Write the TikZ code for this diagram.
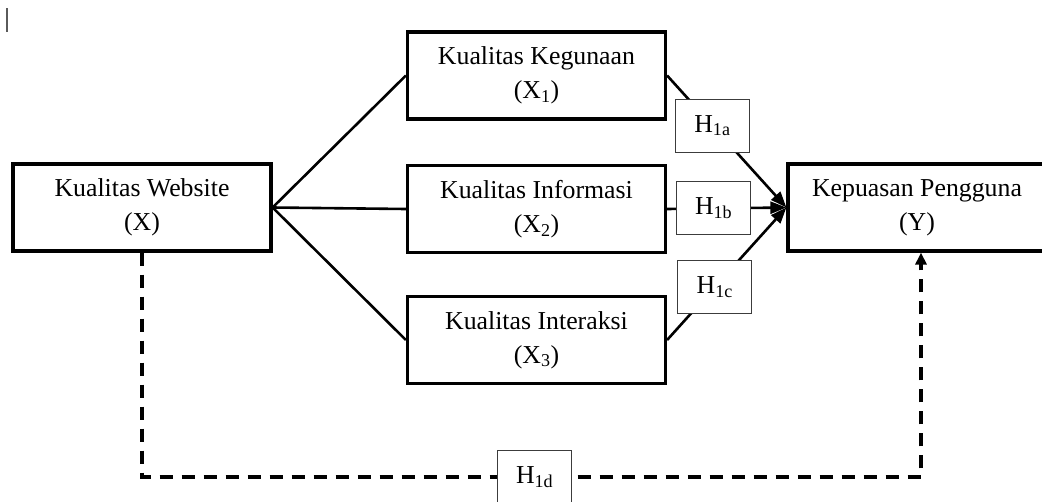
\documentclass[tikz,border=0pt]{standalone}
\usepackage{fontspec}
\setmainfont{Liberation Serif}
\usetikzlibrary{arrows.meta}
\definecolor{ink}{HTML}{000000}
\definecolor{thin}{HTML}{3C3C3C}
\definecolor{caret}{HTML}{5A5A5A}
\tikzset{
  var/.style={draw=ink, line width=3.2pt, fill=white, minimum width=258pt, minimum height=87pt,
    inner sep=0pt, align=center, font=\fontsize{25.8}{34}\selectfont},
  hyp/.style={draw=thin, solid, line width=1.1pt, fill=white, minimum width=74pt, minimum height=53pt,
    inner sep=0pt, font=\fontsize{25.8}{30}\selectfont},
  link/.style={draw=ink, line width=2.6pt},
  tip/.style={-{Triangle[length=16pt,width=12pt]}},
  dashlink/.style={draw=ink, line width=3.2pt, dash pattern=on 13pt off 9pt},
  dashtip/.style={-{Triangle[length=12pt,width=11pt]}},
}

\begin{document}
\begin{tikzpicture}[x=1pt,y=-1pt]
  \useasboundingbox (0,0) rectangle (1042,501);
  \clip (0,0) rectangle (1042,501);
  \draw[caret, line width=1.6pt] (7,8) -- (7,32);
  % variables
  \node[var] (X) at (142,207.5) {Kualitas Website\\(X)};
  \foreach \n/\y/\t in {1/75.5/Kegunaan,2/209/Informasi,3/340/Interaksi}
    \node[var] (X\n) at (536.5,\y) {Kualitas \t\\(X\textsubscript{\n})};
  \node[var] (Y) at (917,207.5) {Kepuasan Pengguna\\(Y)};
  % paths
  \foreach \n in {1,2,3}
    \draw[link] (X.east) -- (X\n.west);
  \draw[link,tip] (X1.east) -- node[hyp,pos=.38] (Ha) {H\textsubscript{1a}} (Y.west);
  \draw[link,tip] (X2.east) -- node[hyp,pos=.39] (Hb) {H\textsubscript{1b}} (Y.west);
  \draw[link,tip] (X3.east) -- node[hyp,pos=.40] (Hc) {H\textsubscript{1c}} (Y.west);
  % direct effect
  \coordinate (dl) at (142,477);
  \coordinate (dr) at (921,477);
  \draw[dashlink,dashtip] (X.south) -- (dl) -- node[hyp,pos=.504] (Hd) {H\textsubscript{1d}} (dr) -- (dr |- Y.south);
\end{tikzpicture}
\end{document}
